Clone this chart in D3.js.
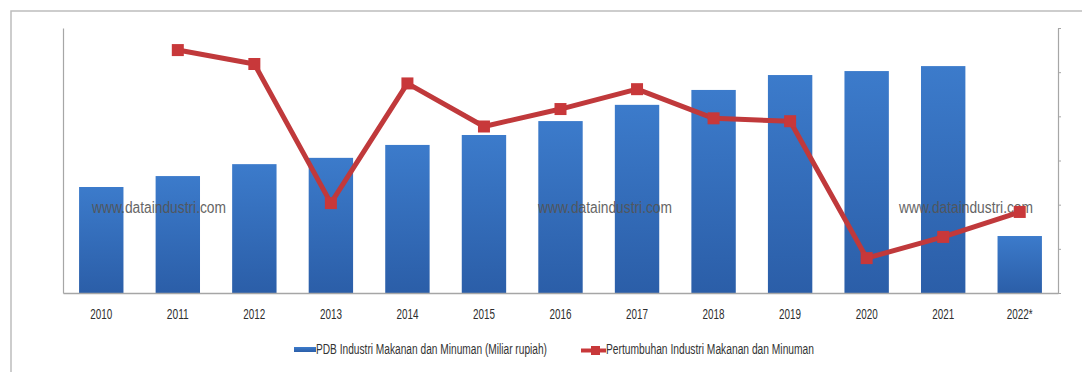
<!DOCTYPE html>
<html><head><meta charset="utf-8">
<script src="https://cdn.jsdelivr.net/npm/d3@7"></script>
<style>
body{margin:0;background:#fff;}
svg{display:block;}
text{font-family:"Liberation Sans",Arial,sans-serif;}
</style></head>
<body><svg id="c" width="1082" height="372"></svg>
<script>
const years = ["2010","2011","2012","2013","2014","2015","2016","2017","2018","2019","2020","2021","2022*"];
const pdbValues = [320000,353000,389000,408000,447000,477000,519000,568000,613000,658000,670000,685000,172000];
const growthValues = [null,11.0,10.37,4.07,9.49,7.54,8.33,9.23,7.91,7.78,1.58,2.54,3.67];
const rightTicks = [0,2,4,6,8,10,12];
const barLabel = "PDB Industri Makanan dan Minuman (Miliar rupiah)";
const lineLabel = "Pertumbuhan Industri Makanan dan Minuman";
const watermark = "www.dataindustri.com";

const svg = d3.select("#c");
const L = 63, R = 1058, T = 28, B = 293;

const defs = svg.append("defs");
const g1 = defs.append("linearGradient").attr("id","bg").attr("x1",0).attr("x2",0).attr("y1",0).attr("y2",1);
g1.append("stop").attr("offset","0%").attr("stop-color","#3c7bcb");
g1.append("stop").attr("offset","100%").attr("stop-color","#2b5ea8");

// outer frame
svg.append("rect").attr("x",11).attr("y",11).attr("width",1100).attr("height",400)
  .attr("fill","none").attr("stroke","#bdbdbd").attr("stroke-width",1.5);

const x = d3.scaleBand().domain(years).range([L,R]).paddingInner(0.42).paddingOuter(0.21);
const yL = d3.scaleLinear().domain([0,800000]).range([B,T]);
const yR = d3.scaleLinear().domain([0,12]).range([B,T]);

// bars
svg.append("g").selectAll("rect").data(years).join("rect")
  .attr("x",d=>x(d)).attr("width",x.bandwidth())
  .attr("y",(d,i)=>yL(pdbValues[i])).attr("height",(d,i)=>B-yL(pdbValues[i]))
  .attr("fill","url(#bg)");

// left axis (line only)
const la = svg.append("g").attr("transform",`translate(${L},0)`)
  .call(d3.axisLeft(yL).ticks(0).tickSize(0).tickSizeOuter(0));
la.select(".domain").attr("stroke","#a6a6a6").attr("stroke-width",1.2);

// right axis
const ra = svg.append("g").attr("transform",`translate(${R},0)`)
  .call(d3.axisRight(yR).tickValues(rightTicks).tickSize(3).tickSizeOuter(0).tickFormat(""));
ra.select(".domain").attr("stroke","#a6a6a6").attr("stroke-width",1.2);
ra.selectAll(".tick line").attr("stroke","#a6a6a6");

// bottom axis
const ba = svg.append("g").attr("transform",`translate(0,${B})`)
  .call(d3.axisBottom(x).tickSize(0).tickSizeOuter(0).tickPadding(26));
ba.select(".domain").attr("stroke","#a6a6a6").attr("stroke-width",1.5);
ba.selectAll(".tick text").attr("font-size",15.5).attr("fill","#2e2e2e")
  .attr("font-family",'"Liberation Sans",Arial,sans-serif')
  .attr("dy","0")
  .attr("textLength",d=>d.length>4?26:22).attr("lengthAdjust","spacingAndGlyphs");

// watermark
[159,605,966].forEach(cx=>{
  svg.append("text").attr("x",cx-67).attr("y",213)
    .attr("font-size",16).attr("fill","#555").attr("opacity",0.9)
    .attr("textLength",134).attr("lengthAdjust","spacingAndGlyphs").text(watermark);
});

// line
const pts = years.map((d,i)=>({x:x(d)+x.bandwidth()/2, v:growthValues[i]})).filter(p=>p.v!==null);
svg.append("path").datum(pts)
  .attr("d",d3.line().x(p=>p.x).y(p=>yR(p.v)))
  .attr("fill","none").attr("stroke","#c0393b").attr("stroke-width",5).attr("stroke-linejoin","round");
svg.append("g").selectAll("rect").data(pts).join("rect")
  .attr("x",p=>p.x-6).attr("y",p=>yR(p.v)-6).attr("width",12).attr("height",12)
  .attr("fill","#c8383a");

// legend
const lg = svg.append("g");
lg.append("rect").attr("x",294).attr("y",347).attr("width",22).attr("height",5).attr("fill","url(#bg)");
lg.append("text").attr("x",316).attr("y",354).attr("font-size",14).attr("fill","#333")
  .attr("textLength",231).attr("lengthAdjust","spacingAndGlyphs").text(barLabel);
lg.append("line").attr("x1",581).attr("x2",606).attr("y1",350.5).attr("y2",350.5).attr("stroke","#c8383a").attr("stroke-width",4);
lg.append("rect").attr("x",591).attr("y",346).attr("width",9).attr("height",9).attr("fill","#c8383a");
lg.append("text").attr("x",606).attr("y",354).attr("font-size",14).attr("fill","#333")
  .attr("textLength",208).attr("lengthAdjust","spacingAndGlyphs").text(lineLabel);
</script></body></html>
